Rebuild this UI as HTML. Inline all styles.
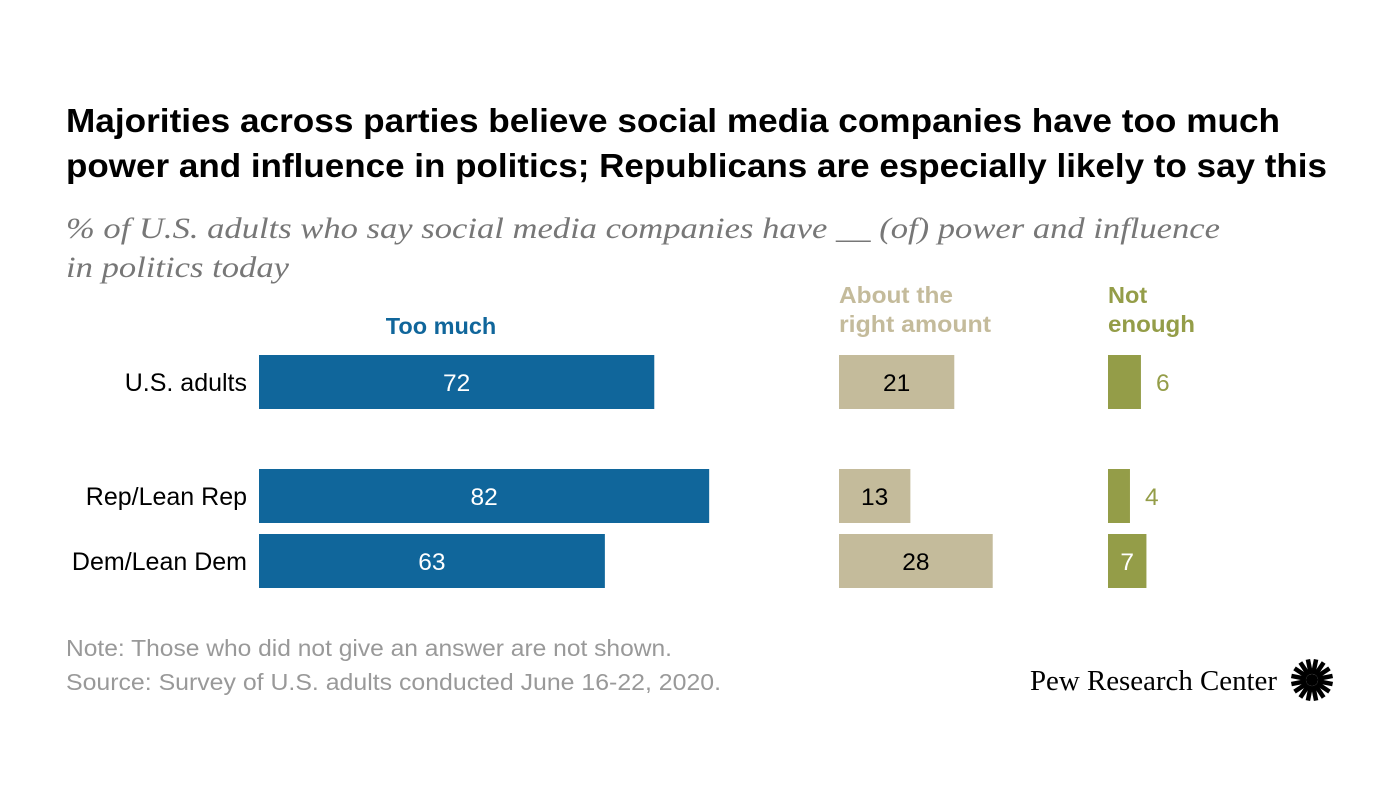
<!DOCTYPE html>
<html><head><meta charset="utf-8"><style>
body{margin:0;background:#fff;width:1400px;height:788px;overflow:hidden;font-family:"Liberation Sans",sans-serif;}
</style></head><body>
<svg id="c" width="1400" height="788" xmlns="http://www.w3.org/2000/svg">
<text x="66" y="132" font-size="33" font-weight="bold" fill="#000" textLength="1214" lengthAdjust="spacingAndGlyphs">Majorities across parties believe social media companies have too much</text>
<text x="66" y="177" font-size="33" font-weight="bold" fill="#000" textLength="1261" lengthAdjust="spacingAndGlyphs">power and influence in politics; Republicans are especially likely to say this</text>
<text x="66" y="238" font-size="30" font-style="italic" font-family="Liberation Serif" fill="#777" textLength="1154" lengthAdjust="spacingAndGlyphs">% of U.S. adults who say social media companies have __ (of) power and influence</text>
<text x="66" y="277" font-size="30" font-style="italic" font-family="Liberation Serif" fill="#777" textLength="223" lengthAdjust="spacingAndGlyphs">in politics today</text>
<text x="441" y="334" font-size="23.5" font-weight="bold" fill="#10669b" text-anchor="middle">Too much</text>
<text x="839" y="303" font-size="23.5" font-weight="bold" fill="#c4bb9b" textLength="114" lengthAdjust="spacingAndGlyphs">About the</text>
<text x="839" y="332" font-size="23.5" font-weight="bold" fill="#c4bb9b" textLength="152" lengthAdjust="spacingAndGlyphs">right amount</text>
<text x="1108" y="303" font-size="23.5" font-weight="bold" fill="#949d48">Not</text>
<text x="1108" y="332" font-size="23.5" font-weight="bold" fill="#949d48" textLength="87" lengthAdjust="spacingAndGlyphs">enough</text>
<g id="bars"></g>
<text x="66" y="656" font-size="23" fill="#999" textLength="606" lengthAdjust="spacingAndGlyphs">Note: Those who did not give an answer are not shown.</text>
<text x="66" y="690" font-size="23" fill="#999" textLength="655" lengthAdjust="spacingAndGlyphs">Source: Survey of U.S. adults conducted June 16-22, 2020.</text>
<text x="1030" y="690" font-size="28" font-family="Liberation Serif" fill="#000" textLength="247" lengthAdjust="spacingAndGlyphs">Pew Research Center</text>
<g id="logo"></g>
</svg>
<script>
const categories=["U.S. adults","Rep/Lean Rep","Dem/Lean Dem"];
const tooMuch=[72,82,63];
const aboutRight=[21,13,28];
const notEnough=[6,4,7];
const NS="http://www.w3.org/2000/svg";
const scale=5.49;
const rowY=[355,469,534];
const g=document.getElementById('bars');
function mk(tag,attrs){const e=document.createElementNS(NS,tag);for(const k in attrs)e.setAttribute(k,attrs[k]);return e;}
categories.forEach((c,i)=>{
  const t=mk('text',{x:247,y:rowY[i]+36,'font-size':25,'text-anchor':'end',fill:'#000'});
  t.textContent=c;
  
  
  g.appendChild(t);
});
const series=[
 {vals:tooMuch,x0:259,fill:'#10669b',inText:'#fff',outText:'#10669b',name:'too-much'},
 {vals:aboutRight,x0:839,fill:'#c4bb9b',inText:'#000',outText:'#a09a80',name:'about-right'},
 {vals:notEnough,x0:1108,fill:'#949d48',inText:'#fff',outText:'#949d48',name:'not-enough'}];
series.forEach(s=>{
  s.vals.forEach((v,i)=>{
    const w=v*scale;
    const r=mk('rect',{x:s.x0,y:rowY[i],width:w,height:54,fill:s.fill});
    
    
    g.appendChild(r);
    const inside=w>=36;
    const t=mk('text',{x:inside?s.x0+w/2:s.x0+w+15,y:rowY[i]+36,'font-size':24.5,'text-anchor':inside?'middle':'start',fill:inside?s.inText:s.outText});
    t.textContent=v;
    
    
    g.appendChild(t);
  });
});
const lg=document.getElementById('logo');
const cx=1312,cy=680;
for(let k=0;k<16;k++){
  const a=k*Math.PI/8+Math.PI/16;
  const p=mk('line',{x1:cx+6*Math.cos(a),y1:cy+6*Math.sin(a),x2:cx+21*Math.cos(a),y2:cy+21*Math.sin(a),stroke:'#000','stroke-width':4.5});
  lg.appendChild(p);
}
lg.appendChild(mk('circle',{cx:cx,cy:cy,r:6,fill:'#000'}));
</script>
</body></html>
